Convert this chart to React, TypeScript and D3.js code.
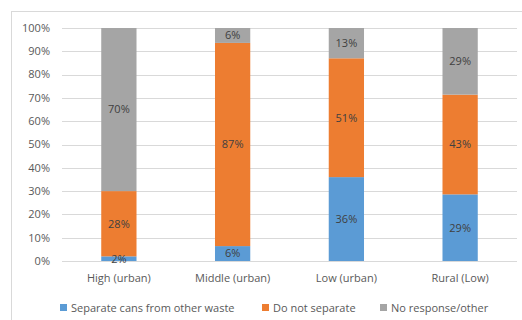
import React from "react";
import * as d3 from "d3";

const categories = ["High (urban)", "Middle (urban)", "Low (urban)", "Rural (Low)"];
const seriesNames = ["Separate cans from other waste", "Do not separate", "No response/other"];
const separateVals = [2, 6.4, 36, 28.6];
const notSeparateVals = [28, 87.2, 51, 42.8];
const noResponseVals = [70, 6.4, 13, 28.6];
const yTicks = [0, 10, 20, 30, 40, 50, 60, 70, 80, 90, 100];
const colors = ["#5B9BD5", "#ED7D31", "#A5A5A5"];

const W = 522;
const H = 320;
const FONT = "'Open Sans', sans-serif";

export default function App() {
  const x = d3.scaleBand<string>().domain(categories).range([62, 517]).paddingInner(0.69).paddingOuter(0.345);
  const y = d3.scaleLinear().domain([0, 100]).range([261, 28]);
  const series = [separateVals, notSeparateVals, noResponseVals];
  const rows = categories.map((c, i) => ({ cat: c, s0: series[0][i], s1: series[1][i], s2: series[2][i] }));
  const stack = d3.stack<any>().keys(["s0", "s1", "s2"])(rows);
  const legendX = [60, 262, 380];

  return (
    <div style={{ position: "absolute", left: 0, top: 0 }}>
      <svg width={W} height={H} style={{ display: "block" }}>
        <rect x={0} y={0} width={W} height={H} fill="#fff" />
        <rect x={11.5} y={11.5} width={W + 10} height={H + 10} fill="none" stroke="#D9D9D9" />
        <defs>
          <clipPath id="plot">
            <rect x={0} y={y(100)} width={W} height={y(0) - y(100)} />
          </clipPath>
        </defs>
        {yTicks.map((t) => (
          <g key={t}>
            <line x1={62} x2={517} y1={Math.round(y(t)) + 0.5} y2={Math.round(y(t)) + 0.5} stroke="#D9D9D9" />
            <text x={50} y={y(t)} dy="0.35em" textAnchor="end" fontFamily={FONT} fontSize={11} fill="#595959">
              {t}%
            </text>
          </g>
        ))}
        <g clipPath="url(#plot)">
          {stack.map((layer, si) =>
            layer.map((d, i) => (
              <rect
                key={si + "-" + i}
                x={x(categories[i])}
                width={x.bandwidth()}
                y={y(d[1])}
                height={y(d[0]) - y(d[1])}
                fill={colors[si]}
              />
            ))
          )}
        </g>
        {stack.map((layer, si) =>
          layer.map((d, i) => (
            <text
              key={"l" + si + "-" + i}
              x={(x(categories[i]) as number) + x.bandwidth() / 2}
              y={y((d[0] + Math.min(d[1], 100)) / 2)}
              dy="0.35em"
              textAnchor="middle"
              fontFamily={FONT}
              fontSize={11}
              fill="#404040"
            >
              {Math.round(series[si][i])}%
            </text>
          ))
        )}
        {categories.map((c) => (
          <text
            key={c}
            x={(x(c) as number) + x.bandwidth() / 2}
            y={278}
            dy="0.35em"
            textAnchor="middle"
            fontFamily={FONT}
            fontSize={11}
            fill="#595959"
          >
            {c}
          </text>
        ))}
        {seriesNames.map((n, i) => (
          <g key={n}>
            <rect x={legendX[i]} y={304} width={7} height={7} fill={colors[i]} />
            <text x={legendX[i] + 11} y={308} dy="0.35em" fontFamily={FONT} fontSize={11} fill="#595959">
              {n}
            </text>
          </g>
        ))}
      </svg>
    </div>
  );
}
